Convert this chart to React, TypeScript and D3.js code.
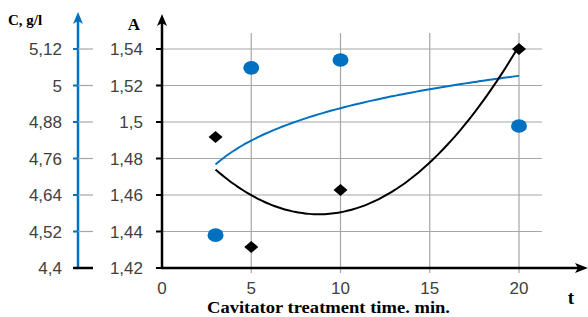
import * as d3 from 'd3';

// measured points
const timeC = [3, 5, 10, 20];
const concentration = [4.508, 5.058, 5.084, 4.867];
const timeA = [3, 5, 10, 20];
const absorbance = [1.4918, 1.4315, 1.4627, 1.54];

const cTicks = [4.4, 4.52, 4.64, 4.76, 4.88, 5, 5.12];
const aTicks = [1.42, 1.44, 1.46, 1.48, 1.5, 1.52, 1.54];
const tTicks = [0, 5, 10, 15, 20];

const BLUE = '#0070c0';
const GRID = '#a6a6a6';
const LABEL = '#404040';

// least squares y = a + b ln t
function logFit(xs: number[], ys: number[]) {
  const lx = xs.map(Math.log);
  const mx = d3.mean(lx)!;
  const my = d3.mean(ys)!;
  let sxy = 0, sxx = 0;
  lx.forEach((v, i) => { sxy += (v - mx) * (ys[i] - my); sxx += (v - mx) ** 2; });
  const b = sxy / sxx;
  const a = my - b * mx;
  return (t: number) => a + b * Math.log(t);
}

// least squares y = c0 + c1 t + c2 t^2
function quadFit(xs: number[], ys: number[]) {
  const s = (p: number) => d3.sum(xs, (x) => x ** p);
  const sy = (p: number) => d3.sum(xs, (x, i) => x ** p * ys[i]);
  const m = [
    [s(0), s(1), s(2), sy(0)],
    [s(1), s(2), s(3), sy(1)],
    [s(2), s(3), s(4), sy(2)],
  ];
  for (let i = 0; i < 3; i++) {
    for (let j = i + 1; j < 3; j++) {
      const f = m[j][i] / m[i][i];
      for (let k = i; k < 4; k++) m[j][k] -= f * m[i][k];
    }
  }
  const c = [0, 0, 0];
  for (let i = 2; i >= 0; i--) {
    let v = m[i][3];
    for (let k = i + 1; k < 3; k++) v -= m[i][k] * c[k];
    c[i] = v / m[i][i];
  }
  return (t: number) => c[0] + c[1] * t + c[2] * t * t;
}

const fmt = (v: number) => String(v).replace('.', ',');

export default function App() {
  const W = 588, H = 317;
  const x = d3.scaleLinear().domain([0, 20]).range([162, 519]);
  const yA = d3.scaleLinear().domain([1.42, 1.54]).range([268, 49]);
  const yC = d3.scaleLinear().domain([4.4, 5.12]).range([268, 49]);

  const cFn = logFit(timeC, concentration);
  const aFn = quadFit(timeA, absorbance);
  const ts = d3.range(3, 20.001, 0.25);

  const cLine = d3.line<number>().x((t) => x(t)).y((t) => yC(cFn(t))).curve(d3.curveBasis);
  const aLine = d3.line<number>().x((t) => x(t)).y((t) => yA(aFn(t))).curve(d3.curveBasis);

  const axisX = x(0);
  const blueX = 78;
  const y0 = yA(1.42);
  const sans = "'Liberation Sans', Arial, sans-serif";
  const serif = "'Liberation Serif', 'Times New Roman', serif";

  return (
    <svg width={W} height={H} style={{ position: 'absolute', left: 0, top: 0, background: '#fff' }}>
      {/* grid */}
      {aTicks.slice(1).map((v) => (
        <line key={'h' + v} x1={axisX} x2={542} y1={yA(v)} y2={yA(v)} stroke={GRID} strokeWidth={1.2} />
      ))}
      {tTicks.slice(1).map((v) => (
        <line key={'v' + v} x1={x(v)} x2={x(v)} y1={33} y2={y0 + 5} stroke={GRID} strokeWidth={1.2} />
      ))}

      {/* trend lines */}
      <path d={cLine(ts) || ''} fill="none" stroke={BLUE} strokeWidth={2} />
      <path d={aLine(ts) || ''} fill="none" stroke="#000" strokeWidth={2} />

      {/* points */}
      {timeC.map((t, i) => (
        <ellipse key={'c' + i} cx={x(t)} cy={yC(concentration[i])} rx={8} ry={6.8} fill={BLUE} />
      ))}
      {timeA.map((t, i) => {
        const cx = x(t), cy = yA(absorbance[i]);
        return <path key={'a' + i} d={`M${cx - 7},${cy}L${cx},${cy - 6}L${cx + 7},${cy}L${cx},${cy + 6}Z`} fill="#000" />;
      })}

      {/* blue axis C */}
      <line x1={blueX} x2={blueX} y1={y0} y2={20} stroke={BLUE} strokeWidth={2.5} />
      <path d={`M${blueX},12L${blueX - 5},24L${blueX},21L${blueX + 5},24Z`} fill={BLUE} />
      {cTicks.map((v) => (
        <g key={'ct' + v}>
          {v === 4.4 ? (
            <line x1={blueX - 5} x2={blueX + 15} y1={yC(v)} y2={yC(v)} stroke="#000" strokeWidth={2.5} />
          ) : (
            <>
              <line x1={blueX - 5} x2={blueX} y1={yC(v)} y2={yC(v)} stroke={BLUE} strokeWidth={2} />
              <line x1={blueX} x2={blueX + 15} y1={yC(v)} y2={yC(v)} stroke={GRID} strokeWidth={1.2} />
            </>
          )}
          <text x={62} y={yC(v)} dy="0.36em" textAnchor="end" fontFamily={sans} fontSize={17} fill={LABEL}>
            {fmt(v)}
          </text>
        </g>
      ))}
      <text x={8} y={25} fontFamily={serif} fontWeight="bold" fontSize={15} fill="#000">C, g/l</text>

      {/* black axis A */}
      <line x1={axisX} x2={axisX} y1={y0 + 1} y2={22} stroke="#000" strokeWidth={2.5} />
      <path d={`M${axisX},14L${axisX - 5},26L${axisX},23L${axisX + 5},26Z`} fill="#000" />
      {aTicks.map((v) => (
        <g key={'at' + v}>
          <line x1={axisX - 6} x2={axisX} y1={yA(v)} y2={yA(v)} stroke="#000" strokeWidth={2} />
          <text x={143} y={yA(v)} dy="0.36em" textAnchor="end" fontFamily={sans} fontSize={17} fill={LABEL}>
            {fmt(v)}
          </text>
        </g>
      ))}
      <text x={140} y={30} textAnchor="end" fontFamily={serif} fontWeight="bold" fontSize={17} fill="#000">A</text>

      {/* x axis */}
      <line x1={axisX - 1} x2={580} y1={y0} y2={y0} stroke="#000" strokeWidth={2.5} />
      <path d={`M588,${y0}L575,${y0 - 5}L578,${y0}L575,${y0 + 5}Z`} fill="#000" />
      {tTicks.map((v) => (
        <text key={'tt' + v} x={x(v)} y={y0 + 26} textAnchor="middle" fontFamily={sans} fontSize={17} fill={LABEL}>
          {v}
        </text>
      ))}
      <text x={571} y={y0 + 36} textAnchor="middle" fontFamily={serif} fontWeight="bold" fontSize={19} fill="#000">t</text>
      <text x={207} y={313} textLength={243} lengthAdjust="spacingAndGlyphs" fontFamily={serif} fontWeight="bold" fontSize={16.5} fill="#000">
        Cavitator treatment time. min.
      </text>
    </svg>
  );
}
